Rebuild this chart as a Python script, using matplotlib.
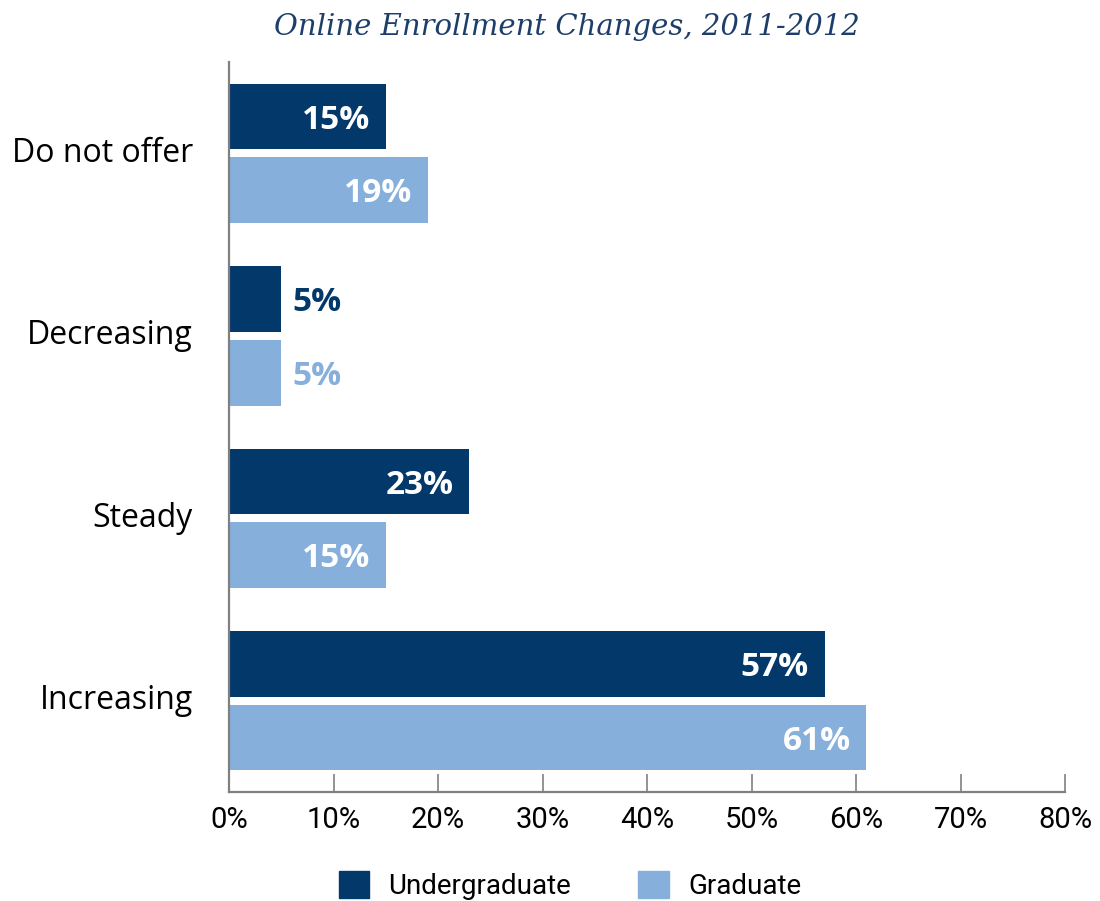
import numpy as np
import matplotlib.pyplot as plt
from matplotlib.patches import Patch

categories = ["Do not offer", "Decreasing", "Steady", "Increasing"]
undergraduate = [15, 5, 23, 57]
graduate = [19, 5, 15, 61]
xticks = [0, 10, 20, 30, 40, 50, 60, 70, 80]

dark = "#02386a"
light = "#86afdc"
title_color = "#1d3e6b"

fig = plt.figure(figsize=(11, 9.01), dpi=100)
ax = fig.add_axes([0.2082, 0.121, 0.76, 0.810])

y = np.arange(len(categories))
h = 0.36
off = 0.202

ax.barh(y - off, undergraduate, height=h, color=dark)
ax.barh(y + off, graduate, height=h, color=light)

# value labels: inside the bar in white, outside in bar colour when too short
for vals, dy, col in [(undergraduate, -off, dark), (graduate, off, light)]:
    for i, v in enumerate(vals):
        if v >= 10:
            ax.text(v - 1.5, i + dy + 0.02, f"{v}%", ha="right", va="center",
                    color="white", fontsize=24, fontweight="bold",
                    family="Open Sans")
        else:
            ax.text(v + 1.1, i + dy + 0.02, f"{v}%", ha="left", va="center",
                    color=col, fontsize=24, fontweight="bold",
                    family="Open Sans")

ax.set_ylim(3.5, -0.5)
ax.set_xlim(0, 80)
ax.set_yticks(y)
ax.set_yticklabels(categories, fontsize=23, family="Open Sans")
ax.tick_params(axis="y", length=0, pad=26)
for lbl in ax.get_yticklabels():
    lbl.set_va("center")

ax.set_xticks(xticks)
ax.set_xticklabels([f"{t}%" for t in xticks], fontsize=21, family="Roboto")
ax.tick_params(axis="x", direction="in", length=13, width=1.2,
               color="#808080", pad=10)

for s in ["top", "right"]:
    ax.spines[s].set_visible(False)
for s in ["left", "bottom"]:
    ax.spines[s].set_color("#808080")
    ax.spines[s].set_linewidth(1.6)

fig.text(0.515, 0.97, "Online Enrollment Changes, 2011-2012", ha="center",
         va="center", fontsize=21, style="italic", color=title_color,
         family="DejaVu Serif")

handles = [Patch(color=dark, label="Undergraduate"),
           Patch(color=light, label="Graduate")]
fig.legend(handles=handles, loc="center", bbox_to_anchor=(0.518, 0.017),
           ncol=2, frameon=False, handlelength=1.1, handleheight=1.1,
           columnspacing=2.4, handletextpad=0.7,
           prop={"family": "Roboto", "size": 20})

fig.savefig("out.png", dpi=100)
